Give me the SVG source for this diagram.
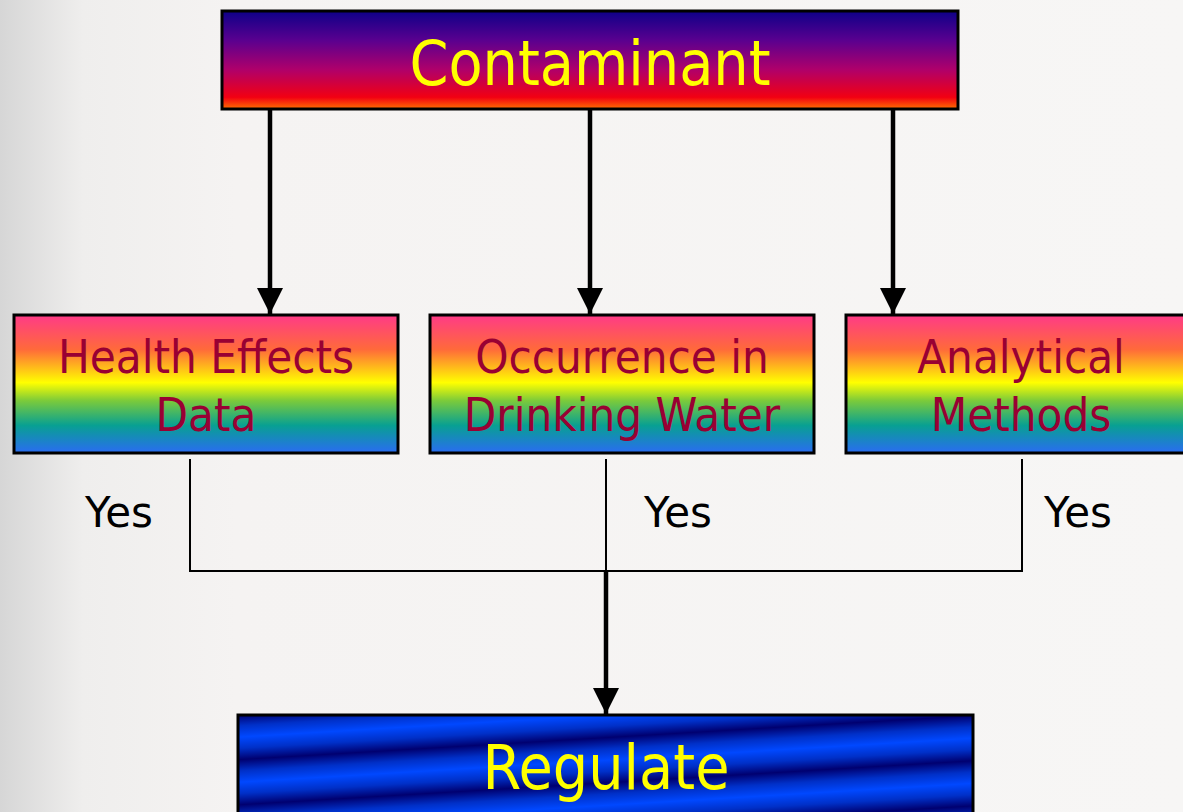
<svg xmlns="http://www.w3.org/2000/svg" width="1183" height="812" viewBox="0 0 1183 812">
<defs>
<linearGradient id="bg" x1="0" y1="0" x2="1" y2="0">
<stop offset="0" stop-color="#d6d6d6"/>
<stop offset="0.07" stop-color="#efeeed"/>
<stop offset="0.2" stop-color="#f5f3f2"/>
<stop offset="1" stop-color="#f7f6f5"/>
</linearGradient>
<linearGradient id="topg" x1="0" y1="0" x2="0" y2="1">
<stop offset="0" stop-color="#0d0088"/>
<stop offset="0.3" stop-color="#5a008f"/>
<stop offset="0.6" stop-color="#b0006a"/>
<stop offset="0.88" stop-color="#f20012"/>
<stop offset="1" stop-color="#ff7000"/>
</linearGradient>
<linearGradient id="rainbow" x1="0" y1="0" x2="0" y2="1">
<stop offset="0" stop-color="#ff3a88"/>
<stop offset="0.25" stop-color="#ff6a3a"/>
<stop offset="0.49" stop-color="#ffff00"/>
<stop offset="0.62" stop-color="#7ccb3a"/>
<stop offset="0.8" stop-color="#08a092"/>
<stop offset="1" stop-color="#2a6cf2"/>
</linearGradient>
<linearGradient id="stripes" gradientUnits="userSpaceOnUse" x1="238.6" y1="714.5" x2="241.3" y2="759.5" spreadMethod="repeat">
<stop offset="0" stop-color="#000070"/>
<stop offset="0.25" stop-color="#0030c8"/>
<stop offset="0.5" stop-color="#0048ff"/>
<stop offset="0.75" stop-color="#0030c8"/>
<stop offset="1" stop-color="#000070"/>
</linearGradient>
<marker id="ah" viewBox="0 0 26 26" refX="26" refY="13" markerWidth="26" markerHeight="26" markerUnits="userSpaceOnUse" orient="auto">
<path d="M0,0 L26,13 L0,26 Z" fill="#000"/>
</marker>
<style>
.box{stroke:#000;stroke-width:3}
.big{font-family:"DejaVu Sans Condensed","DejaVu Sans",sans-serif;font-size:62px;fill:#ffff00;text-anchor:middle}
.mid{font-family:"DejaVu Sans Condensed","DejaVu Sans",sans-serif;font-size:47px;fill:#990033;text-anchor:middle}
.yes{font-family:"DejaVu Sans",sans-serif;font-size:42px;fill:#000;text-anchor:middle}
.thick{stroke:#000;stroke-width:4.5;fill:none}
.thin{stroke:#000;stroke-width:2;fill:none}
</style>
</defs>
<rect x="0" y="0" width="1183" height="812" fill="url(#bg)"/>

<g id="contaminant">
<rect class="box" x="222" y="11" width="736" height="98" fill="url(#topg)"/>
<text class="big" x="590" y="85">Contaminant</text>
</g>

<g id="health">
<rect class="box" x="14" y="315" width="384" height="138" fill="url(#rainbow)"/>
<text class="mid" x="206" y="373">Health Effects</text>
<text class="mid" x="206" y="431">Data</text>
</g>

<g id="occurrence">
<rect class="box" x="430" y="315" width="384" height="138" fill="url(#rainbow)"/>
<text class="mid" x="622" y="373">Occurrence in</text>
<text class="mid" x="622" y="431">Drinking Water</text>
</g>

<g id="analytical">
<rect class="box" x="846" y="315" width="360" height="138" fill="url(#rainbow)"/>
<text class="mid" x="1021" y="373">Analytical</text>
<text class="mid" x="1021" y="431">Methods</text>
</g>

<g id="regulate">
<rect class="box" x="238" y="715" width="735" height="110" fill="url(#stripes)"/>
<text class="big" x="606" y="789">Regulate</text>
</g>

<g id="labels">
<text class="yes" x="119" y="527">Yes</text>
<text class="yes" x="678" y="527">Yes</text>
<text class="yes" x="1078" y="527">Yes</text>
</g>

<g id="connectors">
<line class="thick" x1="270" y1="109" x2="270" y2="314" marker-end="url(#ah)"/>
<line class="thick" x1="590" y1="109" x2="590" y2="314" marker-end="url(#ah)"/>
<line class="thick" x1="893" y1="109" x2="893" y2="314" marker-end="url(#ah)"/>
<polyline class="thin" points="190,459 190,571 1022,571 1022,459"/>
<line class="thin" x1="606" y1="459" x2="606" y2="571"/>
<line class="thick" x1="606" y1="571" x2="606" y2="714" marker-end="url(#ah)"/>
</g>
</svg>
